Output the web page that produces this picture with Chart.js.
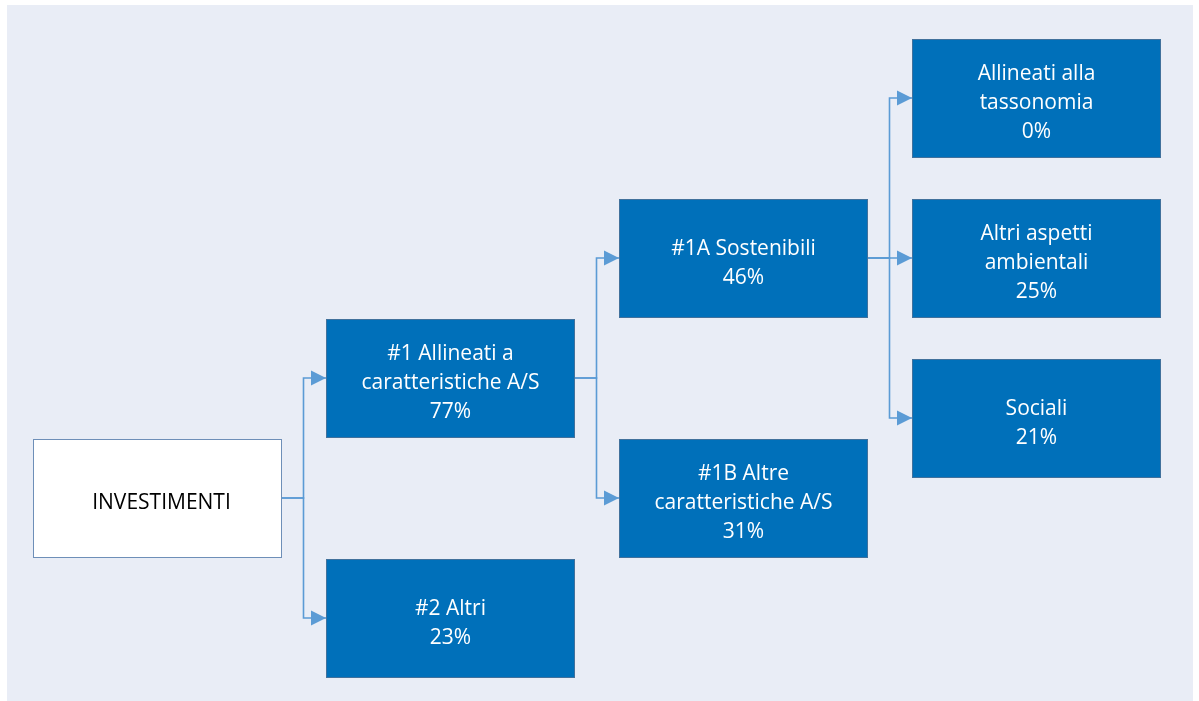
<!DOCTYPE html>
<html>
<head>
<meta charset="utf-8">
<script src="https://cdn.jsdelivr.net/npm/chart.js@4"></script>
<style>
  html, body { margin: 0; padding: 0; background: #ffffff; }
  #panel { position: absolute; left: 7px; top: 5px; width: 1186px; height: 696px; background: #E9EDF6; }
  #wrap { position: absolute; left: 0; top: 0; width: 1199px; height: 701px; }
</style>
</head>
<body>
<div id="panel"></div>
<div id="wrap"><canvas id="c" width="1199" height="701"></canvas></div>
<script>
// ---- data ----
const nodeLines = [
  ['INVESTIMENTI'],
  ['#1 Allineati a', 'caratteristiche A/S'],
  ['#2 Altri'],
  ['#1A Sostenibili'],
  ['#1B Altre', 'caratteristiche A/S'],
  ['Allineati alla', 'tassonomia'],
  ['Altri aspetti', 'ambientali'],
  ['Sociali']
];
const nodeValues = [null, 77, 23, 46, 31, 0, 25, 21];
const nodeParent = [-1, 0, 0, 1, 1, 3, 3, 3];
const nodeLevel  = [0, 1, 1, 2, 2, 3, 3, 3];
const nodeSlot   = [10, 7, 13, 4, 10, 0, 4, 8];

// ---- layout constants (scale units) ----
const HALF_W = 0.4232;   // half box width in level units
const HALF_H = 1.475;    // half box height in slot units
const LINE_COLOR = '#5B9BD5';
const BOX_FILL = '#0070BA';
const BOX_BORDER = '#41719C';
const FONT = '21px "Open Sans", sans-serif';

// connector datasets built from the tree
const connectorSets = [];
for (let i = 0; i < nodeParent.length; i++) {
  const p = nodeParent[i];
  if (p < 0) continue;
  const midX = nodeLevel[p] + 0.5;
  connectorSets.push({
    type: 'line',
    data: [
      { x: nodeLevel[p] + HALF_W, y: nodeSlot[p] },
      { x: midX, y: nodeSlot[p] },
      { x: midX, y: nodeSlot[i] },
      { x: nodeLevel[i] - HALF_W, y: nodeSlot[i] }
    ],
    borderColor: LINE_COLOR,
    borderWidth: 1.6,
    pointRadius: 0,
    tension: 0,
    fill: false,
    showLine: true
  });
}

const treePlugin = {
  id: 'tree',
  afterDatasetsDraw(chart) {
    const ctx = chart.ctx;
    const xs = chart.scales.x, ys = chart.scales.y;
    // arrowheads
    connectorSets.forEach(ds => {
      const end = ds.data[3];
      const tx = xs.getPixelForValue(end.x), ty = ys.getPixelForValue(end.y);
      ctx.save();
      ctx.fillStyle = LINE_COLOR;
      ctx.beginPath();
      ctx.moveTo(tx, ty);
      ctx.lineTo(tx - 15, ty - 7.5);
      ctx.lineTo(tx - 15, ty + 7.5);
      ctx.closePath();
      ctx.fill();
      ctx.restore();
    });
    // boxes
    for (let i = 0; i < nodeLines.length; i++) {
      const x0 = Math.round(xs.getPixelForValue(nodeLevel[i] - HALF_W)) + 0.5;
      const x1 = Math.round(xs.getPixelForValue(nodeLevel[i] + HALF_W)) + 0.5;
      const y0 = Math.round(ys.getPixelForValue(nodeSlot[i] - HALF_H)) + 0.5;
      const y1 = Math.round(ys.getPixelForValue(nodeSlot[i] + HALF_H)) + 0.5;
      const isRoot = nodeParent[i] < 0;
      ctx.save();
      ctx.fillStyle = isRoot ? '#FFFFFF' : BOX_FILL;
      ctx.fillRect(x0, y0, x1 - x0, y1 - y0);
      ctx.strokeStyle = isRoot ? '#6E8FB8' : BOX_BORDER;
      ctx.lineWidth = 1;
      ctx.strokeRect(x0, y0, x1 - x0, y1 - y0);
      const lines = nodeLines[i].slice();
      if (nodeValues[i] !== null) lines.push(nodeValues[i] + '%');
      ctx.fillStyle = isRoot ? '#000000' : '#FFFFFF';
      ctx.font = FONT;
      ctx.textAlign = 'center';
      ctx.textBaseline = 'middle';
      const cx = (x0 + x1) / 2 + (isRoot ? 4 : 0);
      const cy = (y0 + y1) / 2 + 5;
      const lh = 29;
      lines.forEach((t, k) => {
        ctx.fillText(t, cx, cy + (k - (lines.length - 1) / 2) * lh);
      });
      ctx.restore();
    }
  }
};

const PX_PER_LEVEL = 293, PX_PER_SLOT = 40;
new Chart(document.getElementById('c'), {
  type: 'scatter',
  data: { datasets: connectorSets },
  options: {
    responsive: false,
    animation: false,
    layout: { padding: 0 },
    plugins: { legend: { display: false }, tooltip: { enabled: false } },
    scales: {
      x: { type: 'linear', display: false, min: -157 / PX_PER_LEVEL, max: (1199 - 157) / PX_PER_LEVEL },
      y: { type: 'linear', display: false, reverse: true, min: -98 / PX_PER_SLOT, max: (701 - 98) / PX_PER_SLOT }
    }
  },
  plugins: [treePlugin]
});
</script>
</body>
</html>
